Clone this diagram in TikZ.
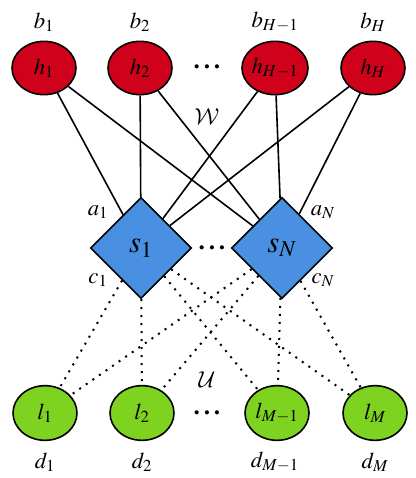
\documentclass[tikz,border=0pt]{standalone}
\usepackage{amsmath}
\usepackage{mathptmx}
\DeclareMathAlphabet{\mathcal}{OMS}{cmsy}{m}{n}
\usetikzlibrary{shapes.geometric}

\definecolor{hidRed}{RGB}{208,2,27}
\definecolor{sumBlue}{RGB}{74,144,226}
\definecolor{leafGreen}{RGB}{126,211,33}

\newcommand{\rowdots}{{\fontsize{8}{9}\selectfont$\bullet$\hspace{3.6pt}$\bullet$\hspace{3.6pt}$\bullet$}}

\tikzset{
  hnode/.style={ellipse, draw, line width=1.2pt, fill=hidRed, minimum width=48pt, minimum height=40pt, inner sep=0pt, font=\fontsize{17}{19}\selectfont},
  lnode/.style={ellipse, draw, line width=1.2pt, fill=leafGreen, minimum width=48pt, minimum height=41pt, inner sep=0pt, font=\fontsize{17}{19}\selectfont},
  snode/.style={diamond, aspect=1, draw, line width=1.2pt, fill=sumBlue, minimum width=76pt, minimum height=76pt, inner sep=0pt, font=\fontsize{23}{25}\selectfont},
  lbl/.style={inner sep=0.75pt, font=\fontsize{17}{19}\selectfont},
  wire/.style={line width=1.2pt},
  dotwire/.style={line width=1.5pt, dash pattern=on 1.5pt off 4.5pt},
}

\begin{document}
\begin{tikzpicture}[x=0.75pt,y=0.75pt,yscale=-1,xscale=1]
\useasboundingbox (0,0) rectangle (415,478);

%Shape: Ellipse (hidden row)
\node [hnode] (h1) at (44,68) {$h_1$};
\node [hnode] (h2) at (140,68) {$h_2$};
\node [hnode] (hH1) at (275,68) {$h_{H-1}$};
\node [hnode] (hH) at (373,68) {$h_H$};
% Text Node
\node [inner sep=0pt] (hdots) at (207,67) {\rowdots};

%Shape: Diamond
\node [snode] (s1) at (141,248) {$s_1$};
\node [snode] (sN) at (282,248) {$s_N$};
% Text Node
\node [inner sep=0pt] (sdots) at (212,248) {\rowdots};

%Shape: Ellipse (leaf row)
\node [lnode] (l1) at (45,413) {$l_1$};
\node [lnode] (l2) at (142,413) {$l_2$};
\node [lnode] (lM1) at (277,413) {$l_{M-1}$};
\node [lnode] (lM) at (375,413) {$l_M$};
% Text Node
\node [inner sep=0pt] (ldots) at (207,413) {\rowdots};

%Straight Lines
\draw [wire] (h1) -- (s1);
\draw [wire] (h1) -- (sN);
\draw [wire] (h2) -- (s1);
\draw [wire] (h2) -- (sN);
\draw [wire] (hH1) -- (s1);
\draw [wire] (hH1) -- (sN);
\draw [wire] (hH) -- (s1);
\draw [wire] (hH) -- (sN);

%Dotted Lines
\draw [dotwire] (s1) -- (l1);
\draw [dotwire] (s1) -- (l2);
\draw [dotwire] (s1) -- (lM1);
\draw [dotwire] (s1) -- (lM);
\draw [dotwire] (sN) -- (l1);
\draw [dotwire] (sN) -- (l2);
\draw [dotwire] (sN) -- (lM1);
\draw [dotwire] (sN) -- (lM);

% Text Node
\node [lbl] (b1) at (44,22) {$b_1$};
\node [lbl] (b2) at (140,22) {$b_2$};
\node [lbl] (bH1) at (275,22) {$b_{H-1}$};
\node [lbl] (bH) at (373,22) {$b_H$};
% Text Node
\node [lbl] (wlbl) at (207,117) {$\mathcal{W}$};
% Text Node
\node [lbl] (a1) at (98,212) {$a_1$};
\node [lbl] (aN) at (323,212) {$a_N$};
\node [lbl] (c1) at (98,280) {$c_1$};
\node [lbl] (cN) at (323,280) {$c_N$};
% Text Node
\node [lbl] (ulbl) at (207,380) {$\mathcal{U}$};
% Text Node
\node [lbl] (d1) at (45,462) {$d_1$};
\node [lbl] (d2) at (142,462) {$d_2$};
\node [lbl] (dM1) at (275,462) {$d_{M-1}$};
\node [lbl] (dM) at (375,462) {$d_M$};

\end{tikzpicture}
\end{document}
